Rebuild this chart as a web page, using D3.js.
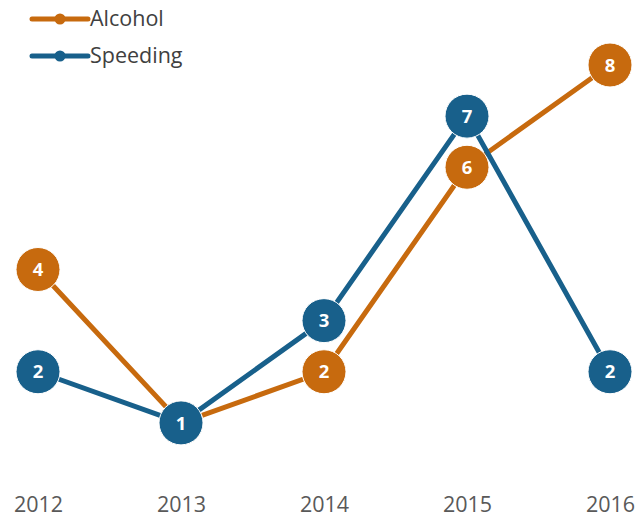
<!DOCTYPE html>
<html>
<head>
<meta charset="utf-8">
<script src="https://cdn.jsdelivr.net/npm/d3@7"></script>
<style>
  html, body { margin: 0; padding: 0; background: #fff; }
  svg { display: block; font-family: "Open Sans", "Liberation Sans", sans-serif; }
</style>
</head>
<body>
<svg id="chart" width="637" height="518"></svg>
<script>
const years = ["2012", "2013", "2014", "2015", "2016"];
const alcohol = [4, 1, 2, 6, 8];
const speeding = [2, 1, 3, 7, 2];
const seriesNames = ["Alcohol", "Speeding"];
const seriesColors = ["#C76A0E", "#18608B"];

const series = [
  { name: seriesNames[0], values: alcohol, color: seriesColors[0] },
  { name: seriesNames[1], values: speeding, color: seriesColors[1] }
];

const svg = d3.select("#chart");

const x = d3.scalePoint().domain(years).range([38, 610]);
const y = d3.scaleLinear().domain([0, 8]).range([474, 65]);

// x axis labels only (no axis line or ticks)
const xAxis = d3.axisBottom(x).tickSize(0).tickPadding(0);
const gx = svg.append("g").attr("transform", "translate(0,512)").call(xAxis);
gx.select(".domain").remove();
gx.selectAll("text")
  .attr("fill", "#595959")
  .attr("dy", "0")
  .style("font-size", "21.5px")
  .style("font-family", "'Open Sans', 'Liberation Sans', sans-serif");

const line = d3.line()
  .x((d, i) => x(years[i]))
  .y(d => y(d));

series.forEach(s => {
  const g = svg.append("g");
  g.append("path")
    .datum(s.values)
    .attr("d", line)
    .attr("fill", "none")
    .attr("stroke", s.color)
    .attr("stroke-width", 5)
    .attr("stroke-linejoin", "round");
  const pts = g.selectAll("g.pt")
    .data(s.values)
    .join("g")
    .attr("class", "pt")
    .attr("transform", (d, i) => `translate(${x(years[i])},${y(d)})`);
  pts.append("circle")
    .attr("r", 22)
    .attr("fill", s.color)
    .attr("stroke", "#fff")
    .attr("stroke-width", 1);
  pts.append("text")
    .text(d => d)
    .attr("text-anchor", "middle")
    .attr("dy", "0.36em")
    .attr("fill", "#fff")
    .style("font-size", "18.5px")
    .style("font-weight", "bold");
});

// legend
const legend = svg.append("g");
series.forEach((s, i) => {
  const ly = 19 + i * 37;
  legend.append("line")
    .attr("x1", 32).attr("x2", 88)
    .attr("y1", ly).attr("y2", ly)
    .attr("stroke", s.color)
    .attr("stroke-width", 5)
    .attr("stroke-linecap", "round");
  legend.append("circle")
    .attr("cx", 60).attr("cy", ly).attr("r", 5.5)
    .attr("fill", s.color);
  legend.append("text")
    .attr("x", 90).attr("y", ly + 7)
    .attr("fill", "#404040")
    .style("font-size", "21.5px")
    .text(s.name);
});
</script>
</body>
</html>
